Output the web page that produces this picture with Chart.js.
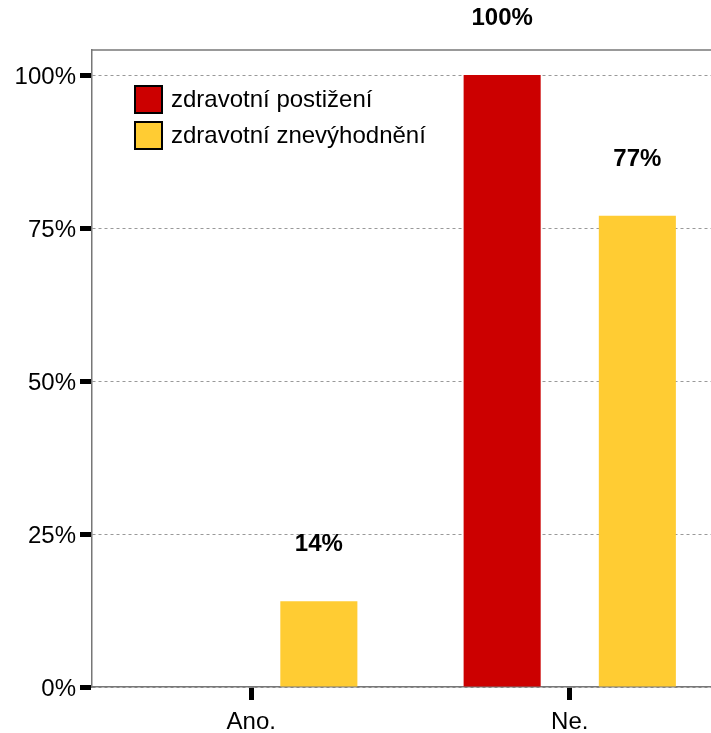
<!DOCTYPE html>
<html>
<head>
<meta charset="utf-8">
<script src="https://cdn.jsdelivr.net/npm/chart.js@4"></script>
<style>
    html, body { margin: 0; padding: 0; background: #fff; overflow: hidden; }
    #wrap { width: 731px; height: 733px; }
</style>
</head>
<body>
<div id="wrap"><canvas id="myChart"></canvas></div>
<script>
const categories = ["Ano.", "Ne."]
const seriesNames = ["zdravotní postižení", "zdravotní znevýhodnění"]
const postizeni = [0, 100]
const znevyhodneni = [14, 77]
const yTicks = [0, 25, 50, 75, 100]
const colors = ["#CC0000", "#FFCC33"]

const font = "'Liberation Sans', Arial, sans-serif"

// value labels over the bars
const barLabels = {
    id: "barLabels",
    afterDatasetsDraw(chart) {
        const ctx = chart.ctx
        ctx.save()
        ctx.font = "bold 24px " + font
        ctx.fillStyle = "#000"
        ctx.textAlign = "center"
        ctx.textBaseline = "middle"
        chart.data.datasets.forEach((ds, i) => {
            chart.getDatasetMeta(i).data.forEach((bar, j) => {
                if (!ds.data[j]) return
                ctx.fillText(ds.data[j] + "%", bar.x, bar.y - 56.5)
            })
        })
        ctx.restore()
    }
}

// top frame line + legend inside the plot
const frameAndLegend = {
    id: "frameAndLegend",
    afterDraw(chart) {
        const ctx = chart.ctx
        const area = chart.chartArea
        ctx.save()
        ctx.strokeStyle = "#777"
        ctx.lineWidth = 1.5
        ctx.beginPath()
        ctx.moveTo(area.left, area.top)
        ctx.lineTo(area.right, area.top)
        ctx.stroke()

        ctx.font = "24px " + font
        ctx.textBaseline = "middle"
        chart.data.datasets.forEach((ds, i) => {
            const x = area.left + 43
            const y = area.top + 36 + i * 36
            ctx.fillStyle = ds.backgroundColor
            ctx.fillRect(x, y, 27, 27)
            ctx.lineWidth = 2
            ctx.strokeStyle = "#000"
            ctx.strokeRect(x, y, 27, 27)
            ctx.fillStyle = "#000"
            ctx.fillText(ds.label, x + 36, y + 14)
        })
        ctx.restore()
    }
}

const chart = document.getElementById("myChart")
new Chart(chart, {
    type: "bar",
    data: {
        labels: categories,
        datasets: [{
            label: seriesNames[0],
            data: postizeni,
            backgroundColor: colors[0]
        }, {
            label: seriesNames[1],
            data: znevyhodneni,
            backgroundColor: colors[1]
        }]
    },
    options: {
        responsive: true,
        maintainAspectRatio: false,
        animation: false,
        categoryPercentage: 0.849,
        barPercentage: 0.57,
        layout: { padding: { top: 50, right: 2, left: 0, bottom: 0 } },
        plugins: {
            legend: { display: false },
            tooltip: { enabled: false }
        },
        scales: {
            x: {
                afterFit: (scale) => { scale.height = 46 },
                grid: {
                    offset: false,
                    drawOnChartArea: false,
                    tickLength: 13,
                    tickWidth: 5,
                    tickColor: "#000"
                },
                border: { color: "#777", width: 1.5 },
                ticks: {
                    color: "#000",
                    padding: 8,
                    font: { family: font, size: 24 }
                }
            },
            y: {
                min: 0,
                max: 104.1,
                afterFit: (scale) => { scale.width = 92 },
                afterBuildTicks: (scale) => {
                    scale.ticks = yTicks.map(v => ({ value: v }))
                },
                grid: {
                    color: "#999",
                    lineWidth: 1,
                    tickLength: 12,
                    tickWidth: 5,
                    tickColor: "#000",
                    tickBorderDash: []
                },
                border: { color: "#777", width: 1.5, dash: [3, 3] },
                ticks: {
                    color: "#000",
                    padding: 4,
                    labelOffset: 2,
                    font: { family: font, size: 24 },
                    callback: (v) => v + "%"
                }
            }
        }
    },
    plugins: [barLabels, frameAndLegend]
})
</script>
</body>
</html>
